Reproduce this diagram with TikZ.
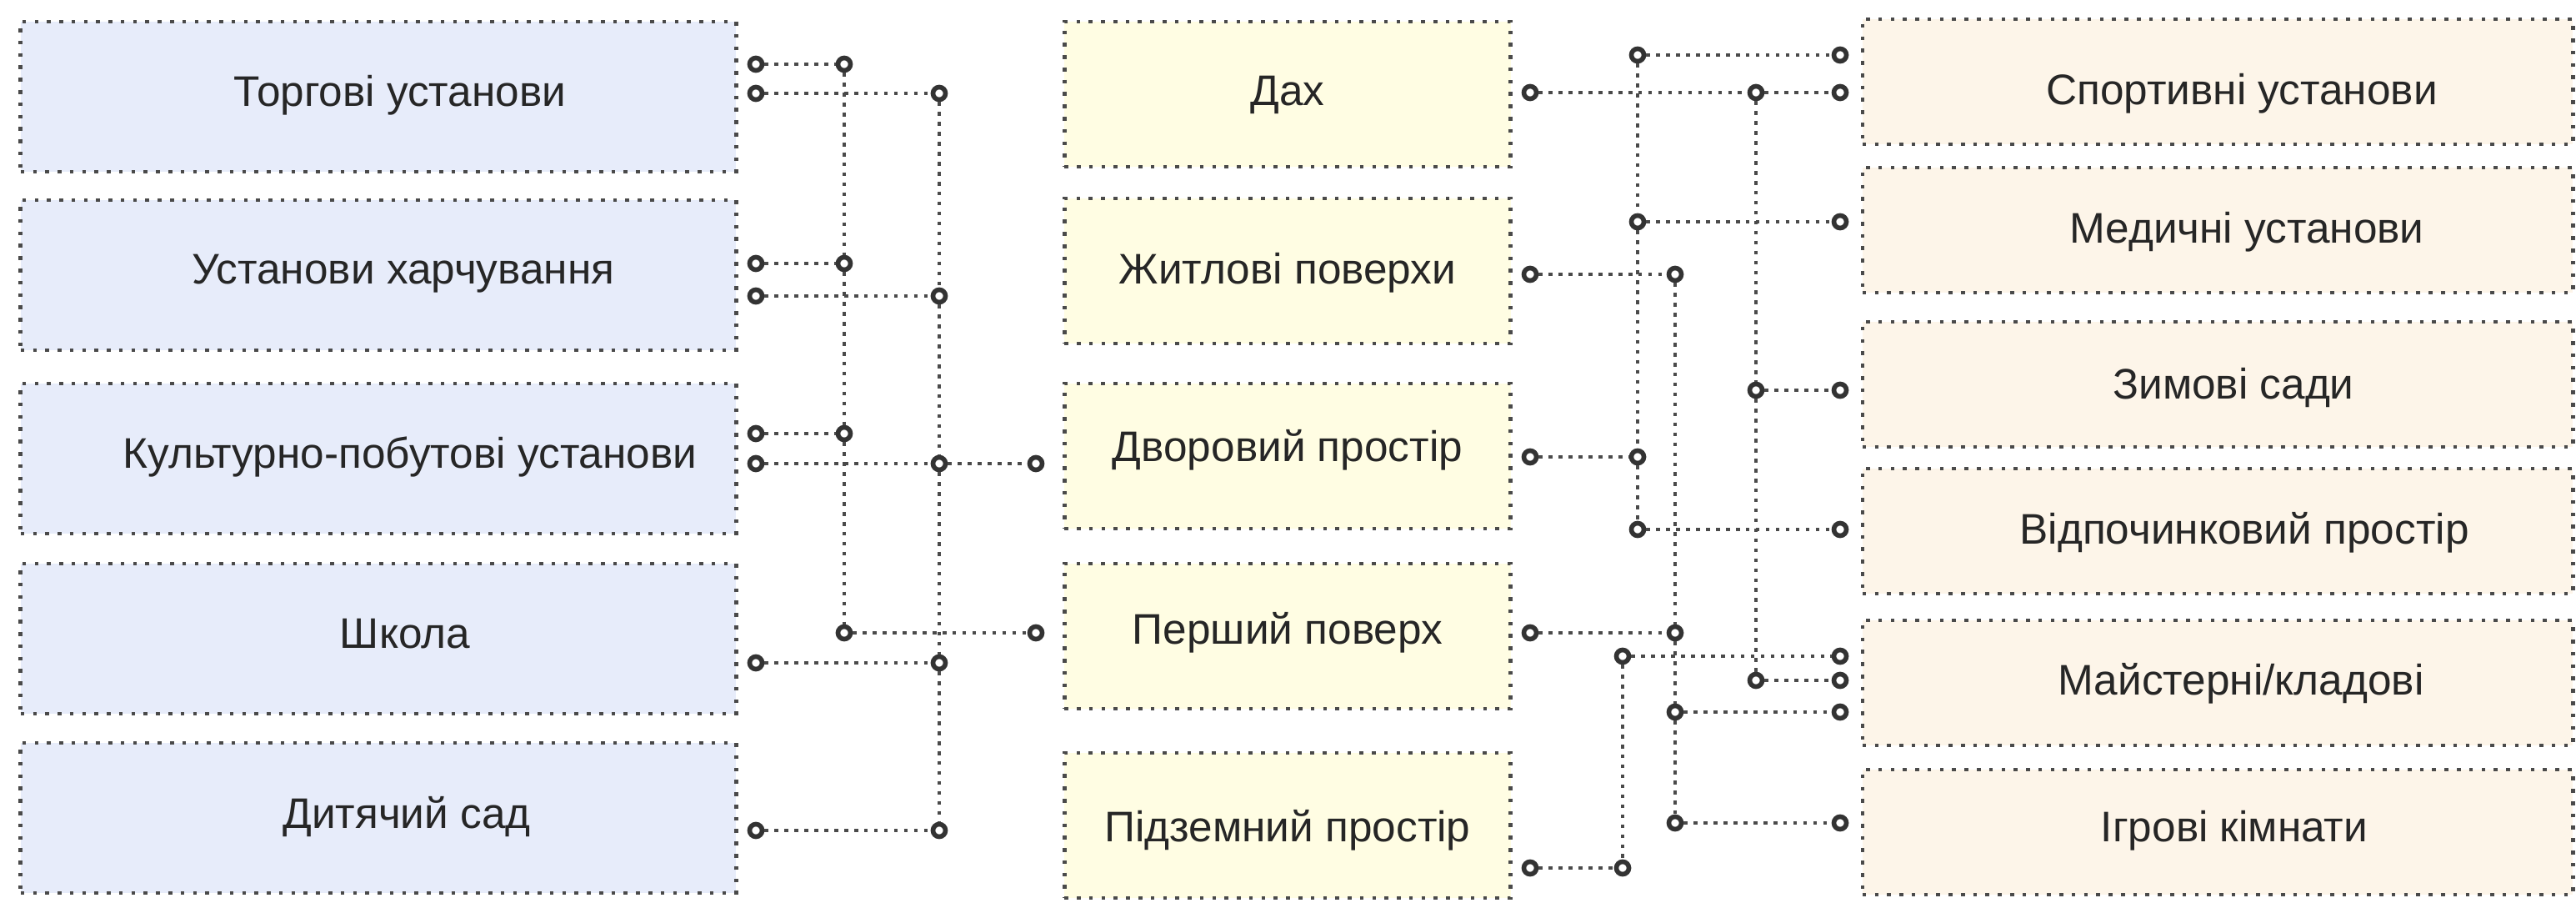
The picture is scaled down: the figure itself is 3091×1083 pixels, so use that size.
\documentclass[tikz,border=0pt]{standalone}
\usepackage{fontspec}
\setmainfont{Liberation Sans}

\definecolor{leftfill}{HTML}{E7ECFA}
\definecolor{midfill}{HTML}{FFFDE3}
\definecolor{rightfill}{HTML}{FDF5E9}
\definecolor{dotgray}{HTML}{4A4A4A}
\definecolor{pingray}{HTML}{333333}
\definecolor{txtgray}{HTML}{262626}

\begin{document}
\begin{tikzpicture}[x=0.01cm,y=-0.01cm,
    box/.style={draw=dotgray,line width=1.3pt,dash pattern=on 1.3pt off 2.9pt,inner sep=0pt},
    lbox/.style={box,fill=leftfill,minimum width=8.58cm,minimum height=1.8cm},
    mbox/.style={box,fill=midfill,minimum width=5.35cm,minimum height=1.74cm},
    rbox/.style={box,fill=rightfill,minimum width=8.52cm,minimum height=1.5cm},
    txt/.style={font=\fontsize{14.6}{17}\selectfont,text=txtgray,inner sep=0pt},
    pin/.style={circle,draw=pingray,line width=1.6pt,fill=white,minimum size=0.15cm,inner sep=0pt},
    link/.style={dotgray,line width=1.3pt,dash pattern=on 1.3pt off 2.1pt}]
   \useasboundingbox[fill=white] (0,0) rectangle (3091,1083);

   % left column
   \node[lbox] (l1) at (454,116) {};
   \node[lbox] (l2) at (454,330) {};
   \node[lbox] (l3) at (454,550) {};
   \node[lbox] (l4) at (454,766) {};
   \node[lbox] (l5) at (454,981) {};
   \node[txt] (tl1) at (480,114) {Торгові установи};
   \node[txt] (tl2) at (484,328) {Установи харчування};
   \node[txt] (tl3) at (492,548) {Культурно-побутові установи};
   \node[txt] (tl4) at (486,760) {Школа};
   \node[txt] (tl5) at (488,980) {Дитячий сад};

   % middle column
   \node[mbox] (m1) at (1545,113) {};
   \node[mbox] (m2) at (1545,325) {};
   \node[mbox] (m3) at (1545,547) {};
   \node[mbox] (m4) at (1545,763) {};
   \node[mbox] (m5) at (1545,990) {};
   \node[txt] (tm1) at (1545,114) {Дах};
   \node[txt] (tm2) at (1545,327) {Житлові поверхи};
   \node[txt] (tm3) at (1545,540) {Дворовий простір};
   \node[txt] (tm4) at (1545,759) {Перший поверх};
   \node[txt] (tm5) at (1545,996) {Підземний простір};

   % right column
   \node[rbox] (r1) at (2661,98) {};
   \node[rbox] (r2) at (2661,276) {};
   \node[rbox] (r3) at (2661,461) {};
   \node[rbox] (r4) at (2661,637) {};
   \node[rbox] (r5) at (2661,819) {};
   \node[rbox] (r6) at (2661,998) {};
   \node[txt] (tr1) at (2690,112) {Спортивні установи};
   \node[txt] (tr2) at (2696,278) {Медичні установи};
   \node[txt] (tr3) at (2680,465) {Зимові сади};
   \node[txt] (tr4) at (2693,639) {Відпочинковий простір};
   \node[txt] (tr5) at (2689,820) {Майстерні/кладові};
   \node[txt] (tr6) at (2681,996) {Ігрові кімнати};

   % pins, left side
   \foreach \n/\y in {tA/77,tB/112,hA/316,hB/355,kA/520,kB/556,sB/795,dB/996}
      \node[pin] (\n) at (907,\y) {};
   \foreach \n/\y in {a1/77,a2/316,a3/520,a4/759}
      \node[pin] (\n) at (1013,\y) {};
   \foreach \n/\y in {b1/112,b2/355,b3/556,b4/795,b5/996}
      \node[pin] (\n) at (1127,\y) {};
   \node[pin] (mk3) at (1243,556) {};
   \node[pin] (mk4) at (1243,759) {};

   % pins, right side
   \foreach \n/\y in {n1/111,n2/329,n3/548,n4/759,n5/1041}
      \node[pin] (\n) at (1836,\y) {};
   \foreach \n/\y in {c1/66,c2/266,c3/548,c4/635}
      \node[pin] (\n) at (1965,\y) {};
   \foreach \n/\y in {d1/329,d2/759,d3/854,d4/987}
      \node[pin] (\n) at (2010,\y) {};
   \foreach \n/\y in {e1/111,e2/468,e3/816}
      \node[pin] (\n) at (2107,\y) {};
   \foreach \n/\y in {f1/787,f2/1041}
      \node[pin] (\n) at (1947,\y) {};
   \foreach \n/\y in {q1/66,q2/111,q3/266,q4/468,q5/635,q6/787,q7/816,q8/854,q9/987}
      \node[pin] (\n) at (2208,\y) {};

   % links, left
   \draw[link] (a1) -- (a2) -- (a3) -- (a4);
   \draw[link] (b1) -- (b2) -- (b3) -- (b4) -- (b5);
   \draw[link] (tA) -- (a1);
   \draw[link] (tB) -- (b1);
   \draw[link] (hA) -- (a2);
   \draw[link] (hB) -- (b2);
   \draw[link] (kA) -- (a3);
   \draw[link] (kB) -- (b3) -- (mk3);
   \draw[link] (a4) -- (mk4);
   \draw[link] (sB) -- (b4);
   \draw[link] (dB) -- (b5);

   % links, right
   \draw[link] (c1) -- (c2) -- (c3) -- (c4);
   \draw[link] (d1) -- (d2) -- (d3) -- (d4);
   \draw[link] (e1) -- (e2) -- (e3);
   \draw[link] (f1) -- (f2);
   \draw[link] (c1) -- (q1);
   \draw[link] (n1) -- (e1) -- (q2);
   \draw[link] (c2) -- (q3);
   \draw[link] (n2) -- (d1);
   \draw[link] (e2) -- (q4);
   \draw[link] (n3) -- (c3);
   \draw[link] (c4) -- (q5);
   \draw[link] (n4) -- (d2);
   \draw[link] (f1) -- (q6);
   \draw[link] (e3) -- (q7);
   \draw[link] (d3) -- (q8);
   \draw[link] (d4) -- (q9);
   \draw[link] (n5) -- (f2);
\end{tikzpicture}
\end{document}
